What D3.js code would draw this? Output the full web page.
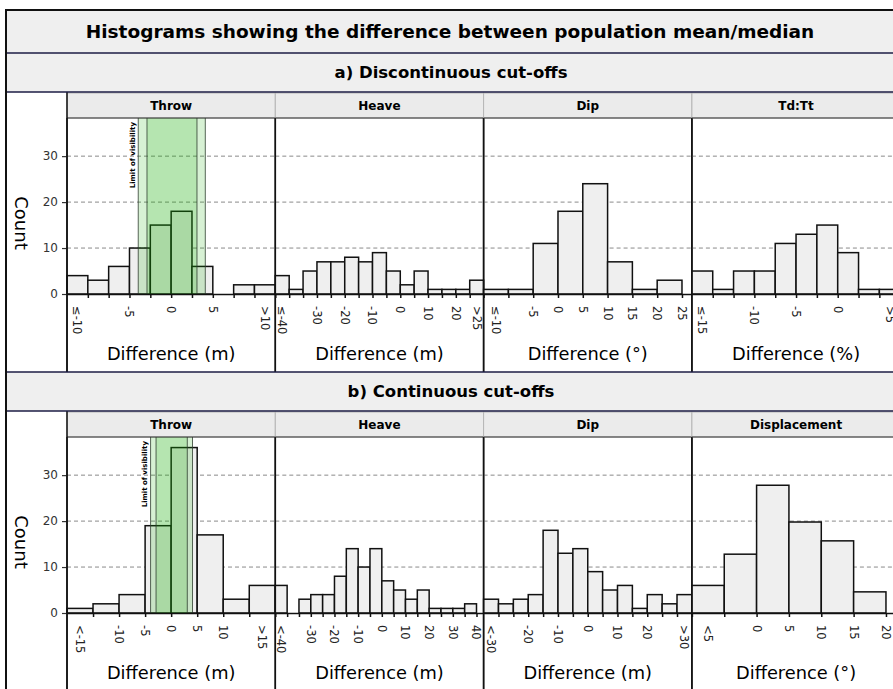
<!DOCTYPE html>
<html>
<head>
<meta charset="utf-8">
<script src="https://cdn.jsdelivr.net/npm/d3@7"></script>
<style>
body { margin: 0; background: #fff; }
svg { display: block; font-family: "DejaVu Sans", Verdana, sans-serif; }
</style>
</head>
<body>
<svg id="chart"></svg>
<script>
// values
const main_title = 'Histograms showing the difference between population mean/median';
const section_titles = ['a) Discontinuous cut-offs', 'b) Continuous cut-offs'];

const panel_names_a = ['Throw', 'Heave', 'Dip', 'Td:Tt'];
const panel_names_b = ['Throw', 'Heave', 'Dip', 'Displacement'];
const x_titles_a = ['Difference (m)', 'Difference (m)', 'Difference (°)', 'Difference (%)'];
const x_titles_b = ['Difference (m)', 'Difference (m)', 'Difference (m)', 'Difference (°)'];

// histogram bins: first bin start, bin width, counts
const x_domains_a = [[-12.5, 12.5], [-45, 30], [-15, 27], [-17.5, 7.5]];
const bin_starts_a = [-12.5, -45, -15, -17.5];
const bin_widths_a = [2.5, 5, 5, 2.5];
const throw_a_counts = [4, 3, 6, 10, 15, 18, 6, 0, 2, 2];
const heave_a_counts = [4, 1, 5, 7, 7, 8, 7, 9, 5, 2, 5, 1, 1, 1, 3];
const dip_a_counts = [1, 1, 11, 18, 24, 7, 1, 3];
const tdtt_a_counts = [5, 1, 5, 5, 11, 13, 15, 9, 1, 1];

const x_domains_b = [[-20, 20], [-45, 43], [-35, 35], [-10, 22.2]];
const bin_starts_b = [-20, -45, -35, -10];
const bin_widths_b = [5, 5, 5, 5];
const throw_b_counts = [1, 2, 4, 19, 36, 17, 3, 6];
const heave_b_counts = [6, 0, 3, 4, 4, 8, 14, 10, 14, 7, 5, 3, 5, 1, 1, 1, 2];
const dip_b_counts = [3, 2, 3, 4, 18, 13, 14, 9, 5, 6, 1, 4, 2, 4];
const displacement_b_counts = [6, 12.8, 27.8, 19.8, 15.7, 4.6];

// tick labels: [position, text]
const throw_a_labels = [[-11.25, '≤-10'], [-5, '-5'], [0, '0'], [5, '5'], [11.25, '>10']];
const heave_a_labels = [[-42.5, '≤-40'], [-30, '-30'], [-20, '-20'], [-10, '-10'], [0, '0'], [10, '10'], [20, '20'], [27.5, '>25']];
const dip_a_labels = [[-12.5, '≤-10'], [-5, '-5'], [0, '0'], [5, '5'], [10, '10'], [15, '15'], [20, '20'], [25, '25']];
const tdtt_a_labels = [[-16.25, '≤-15'], [-10, '-10'], [-5, '-5'], [0, '0'], [6.25, '>5']];
const throw_b_labels = [[-17.5, '<-15'], [-10, '-10'], [-5, '-5'], [0, '0'], [5, '5'], [10, '10'], [17.5, '>15']];
const heave_b_labels = [[-42.5, '<-40'], [-30, '-30'], [-20, '-20'], [-10, '-10'], [0, '0'], [10, '10'], [20, '20'], [30, '30'], [40, '40']];
const dip_b_labels = [[-32.5, '<-30'], [-20, '-20'], [-10, '-10'], [0, '0'], [10, '10'], [20, '20'], [32.5, '>30']];
const displacement_b_labels = [[-7.5, '<5'], [0, '0'], [5, '5'], [10, '10'], [15, '15'], [20, '20']];

const count_ticks = [0, 10, 20, 30];
const count_max = 38.3;
const visibility_outer = [-3.95, 4.1];
const visibility_inner = [-2.9, 3.1];
const visibility_label = 'Limit of visibility';
const y_title = 'Count';

const W = 893, H = 689;
const frame = { left: 6, top: 10 };
const band_title = { top: 10, bottom: 53 };
const section_tops = [53, 372];
const band_h = 39;
const panel_left = 67, panel_w = 208.3;
const navy = '#1c1c44';

const svg = d3.select('#chart').attr('width', W).attr('height', H);

// background bands
svg.append('rect')
    .attr('x', frame.left).attr('y', band_title.top)
    .attr('width', W).attr('height', band_title.bottom - band_title.top)
    .attr('fill', '#efefef');
svg.append('text')
    .attr('x', 450).attr('y', (band_title.top + band_title.bottom) / 2)
    .attr('dy', '0.35em')
    .attr('text-anchor', 'middle')
    .style('font-size', '18.5px').style('font-weight', 'bold')
    .text(main_title);

class FacetHistogram {
    constructor(config, data) {
        this.config = config;
        this.data = data;
        this.init();
    }

    init() {
        let self = this;
        const c = self.config;
        self.g = svg.append('g');
        self.xscale = d3.scaleLinear().domain(self.data.domain).range([c.left, c.left + c.width]);
        self.yscale = d3.scaleLinear().domain([0, count_max]).range([c.axis_y, c.plot_top]);
        self.render();
    }

    render() {
        let self = this;
        const c = self.config, d = self.data;
        const xs = self.xscale, ys = self.yscale;

        // strip
        self.g.append('rect')
            .attr('x', c.left).attr('y', c.strip_top)
            .attr('width', c.width).attr('height', c.plot_top - c.strip_top)
            .attr('fill', '#ebebeb').attr('stroke', '#b5b5b5').attr('stroke-width', 1);
        self.g.append('text')
            .attr('x', c.left + c.width / 2).attr('y', (c.strip_top + c.plot_top) / 2)
            .attr('dy', '0.35em').attr('text-anchor', 'middle')
            .style('font-size', '12px').style('font-weight', 'bold')
            .text(d.name);

        // grid
        self.g.selectAll('line.grid')
            .data(count_ticks.filter(t => t > 0))
            .join('line')
            .attr('class', 'grid')
            .attr('x1', c.left).attr('x2', c.left + c.width)
            .attr('y1', t => ys(t)).attr('y2', t => ys(t))
            .attr('stroke', '#8a8a8a').attr('stroke-width', 1)
            .attr('stroke-dasharray', '4,3');

        const bins = d.counts.map((v, i) => ({
            x0: d.start + i * d.step,
            x1: d.start + (i + 1) * d.step,
            count: v
        }));

        self.g.selectAll('rect.bar')
            .data(bins.filter(b => b.count > 0))
            .join('rect')
            .attr('class', 'bar')
            .attr('x', b => xs(b.x0))
            .attr('width', b => xs(b.x1) - xs(b.x0))
            .attr('y', b => ys(b.count))
            .attr('height', b => ys(0) - ys(b.count))
            .attr('fill', '#efefef')
            .attr('stroke', '#111')
            .attr('stroke-width', 1.5);

        if (d.visibility) {
            [visibility_outer, visibility_inner].forEach(r => {
                self.g.append('rect')
                    .attr('x', xs(r[0])).attr('width', xs(r[1]) - xs(r[0]))
                    .attr('y', c.plot_top).attr('height', c.axis_y - c.plot_top)
                    .attr('fill', '#12ae00').attr('fill-opacity', 0.17);
                r.forEach(v => {
                    self.g.append('line')
                        .attr('x1', xs(v)).attr('x2', xs(v))
                        .attr('y1', c.plot_top).attr('y2', c.axis_y)
                        .attr('stroke', '#2f3f2f').attr('stroke-opacity', 0.8).attr('stroke-width', 1);
                });
            });
            self.g.append('text')
                .attr('transform', `translate(${xs(visibility_outer[0]) - 3.5}, ${c.plot_top + 4}) rotate(-90)`)
                .attr('text-anchor', 'end')
                .style('font-size', '7px').style('font-weight', 'bold')
                .text(visibility_label);
        }

        // x axis: ticks at bin edges
        const edges = bins.map(b => b.x1);
        const xaxis = d3.axisBottom(xs).tickValues(edges).tickSize(4).tickSizeOuter(0).tickFormat('');
        const ax = self.g.append('g')
            .attr('transform', `translate(0, ${c.axis_y})`)
            .call(xaxis);
        ax.selectAll('path, line').attr('stroke', '#111').attr('stroke-width', 1.5);

        self.g.selectAll('text.xlab')
            .data(d.labels)
            .join('text')
            .attr('class', 'xlab')
            .attr('transform', l => `translate(${xs(l[0])}, ${c.axis_y + 12}) rotate(90)`)
            .attr('dy', '0.35em')
            .attr('fill', '#222')
            .style('font-size', '11.5px')
            .text(l => l[1]);

        self.g.append('text')
            .attr('x', c.left + c.width / 2).attr('y', c.axis_y + 60)
            .attr('dy', '0.35em').attr('text-anchor', 'middle')
            .style('font-size', '17.8px')
            .text(d.xtitle);

        // panel borders
        [c.left, c.left + c.width].forEach(x => {
            self.g.append('line')
                .attr('x1', x).attr('x2', x)
                .attr('y1', c.plot_top).attr('y2', c.bottom)
                .attr('stroke', '#111').attr('stroke-width', 1.5);
        });
        self.g.append('line')
            .attr('x1', c.left).attr('x2', c.left + c.width)
            .attr('y1', c.plot_top).attr('y2', c.plot_top)
            .attr('stroke', '#333').attr('stroke-width', 1);
    }
}

const sections = [
    { names: panel_names_a, xtitles: x_titles_a, domains: x_domains_a, starts: bin_starts_a, steps: bin_widths_a,
      counts: [throw_a_counts, heave_a_counts, dip_a_counts, tdtt_a_counts],
      labels: [throw_a_labels, heave_a_labels, dip_a_labels, tdtt_a_labels] },
    { names: panel_names_b, xtitles: x_titles_b, domains: x_domains_b, starts: bin_starts_b, steps: bin_widths_b,
      counts: [throw_b_counts, heave_b_counts, dip_b_counts, displacement_b_counts],
      labels: [throw_b_labels, heave_b_labels, dip_b_labels, displacement_b_labels] }
];

sections.forEach((s, si) => {
    const top = section_tops[si];
    const body_top = top + band_h;
    const bottom = si === 0 ? section_tops[1] : H + 10;
    const plot_top = body_top + 26;
    const axis_y = body_top + 202;

    svg.append('rect')
        .attr('x', frame.left).attr('y', top)
        .attr('width', W).attr('height', band_h)
        .attr('fill', '#efefef');
    svg.append('text')
        .attr('x', 451).attr('y', top + band_h / 2)
        .attr('dy', '0.35em').attr('text-anchor', 'middle')
        .style('font-size', '16.5px').style('font-weight', 'bold')
        .text(section_titles[si]);

    s.names.forEach((name, i) => {
        new FacetHistogram({
            left: panel_left + i * panel_w,
            width: panel_w,
            strip_top: body_top + 1,
            plot_top: plot_top,
            axis_y: axis_y,
            bottom: bottom
        }, {
            name: name,
            xtitle: s.xtitles[i],
            domain: s.domains[i],
            start: s.starts[i],
            step: s.steps[i],
            counts: s.counts[i],
            labels: s.labels[i],
            visibility: i === 0
        });
    });

    // shared count axis
    const yscale = d3.scaleLinear().domain([0, count_max]).range([axis_y, plot_top]);
    const yg = svg.append('g')
        .attr('transform', `translate(${panel_left}, 0)`)
        .call(d3.axisLeft(yscale).tickValues(count_ticks).tickSize(5).tickPadding(4));
    yg.select('.domain').remove();
    yg.selectAll('line').attr('stroke', '#333').attr('stroke-width', 1.2);
    yg.selectAll('text').attr('fill', '#333').style('font-size', '12px')
        .style('font-family', '"DejaVu Sans", Verdana, sans-serif');

    svg.append('text')
        .attr('transform', `translate(21, ${body_top + 131}) rotate(90)`)
        .attr('text-anchor', 'middle').attr('dy', '0.35em')
        .style('font-size', '18px')
        .text(y_title);

    svg.append('line')
        .attr('x1', panel_left).attr('x2', panel_left)
        .attr('y1', body_top).attr('y2', bottom)
        .attr('stroke', '#111').attr('stroke-width', 1.5);

    [top, body_top].forEach(y => {
        svg.append('line')
            .attr('x1', frame.left).attr('x2', W)
            .attr('y1', y).attr('y2', y)
            .attr('stroke', navy).attr('stroke-width', 1.5);
    });
});

// outer frame
svg.append('rect')
    .attr('x', frame.left).attr('y', frame.top)
    .attr('width', W + 10).attr('height', H + 10)
    .attr('fill', 'none')
    .attr('stroke', '#111').attr('stroke-width', 2);
</script>
</body>
</html>
